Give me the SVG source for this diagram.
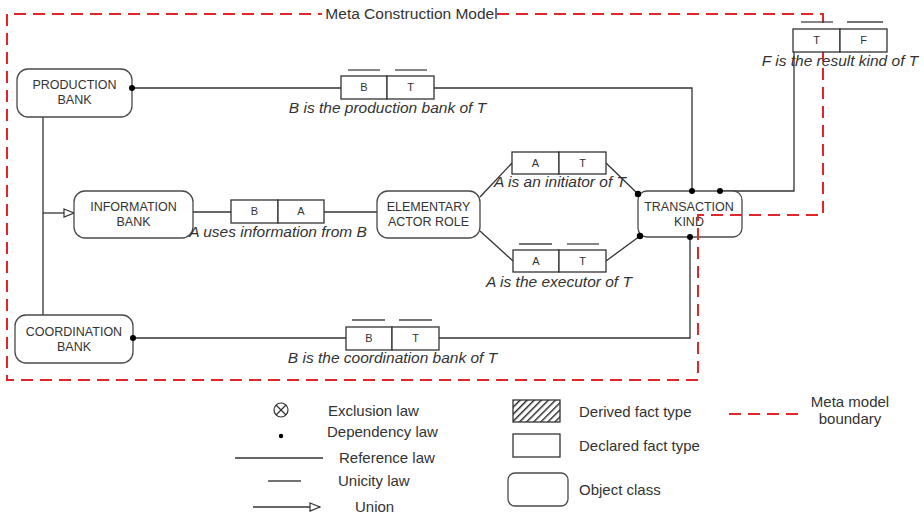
<svg xmlns="http://www.w3.org/2000/svg" width="924" height="514" viewBox="0 0 924 514">
  <style>
    .node { fill: #fff; stroke: #4a4a4a; stroke-width: 1.3; }
    .ntext { font-family: "Liberation Sans", Arial, sans-serif; font-size: 12.5px; fill: #333; text-anchor: middle; }
    .cell { fill: #fff; stroke: #333; stroke-width: 1.3; }
    .ctext { font-family: "Liberation Sans", Arial, sans-serif; font-size: 11px; fill: #333; text-anchor: middle; }
    .uni { stroke: #444; stroke-width: 1.3; fill: none; }
    .conn { stroke: #333; stroke-width: 1.3; fill: none; }
    .label { font-family: "Liberation Sans", Arial, sans-serif; font-size: 15.5px; font-style: italic; fill: #333; text-anchor: middle; }
    .legend { font-family: "Liberation Sans", Arial, sans-serif; font-size: 15px; fill: #333; }
    .boundary { stroke: #e0262b; stroke-width: 2; stroke-dasharray: 12 7; fill: none; }
    .dot { fill: #000; }
  </style>
  <defs>
    <marker id="union" viewBox="0 0 12 10" refX="11" refY="5" markerWidth="12" markerHeight="10" markerUnits="userSpaceOnUse" orient="auto">
      <path d="M1,1 L11,5 L1,9 Z" fill="#fff" stroke="#333" stroke-width="1.2"/>
    </marker>
    <pattern id="hatch" patternUnits="userSpaceOnUse" width="5" height="5" patternTransform="rotate(45)">
      <rect x="0" y="0" width="1.4" height="5" fill="#222"/>
    </pattern>
  </defs>

  <rect width="924" height="514" fill="#fff"/>

  <!-- connectors -->
  <g id="connectors">
    <polyline class="conn" points="132,88 692,88 692,191"/>
    <polyline class="conn" points="43,117 43,315"/>
    <line class="conn" x1="43" y1="213" x2="74" y2="213" marker-end="url(#union)"/>
    <polyline class="conn" points="133,338 690,338 690,237"/>
    <polyline class="conn" points="720,191 794,191 794,52"/>
    <line class="conn" x1="193" y1="212" x2="231" y2="212"/>
    <line class="conn" x1="324" y1="212" x2="377" y2="212"/>
    <line class="conn" x1="480" y1="197" x2="512" y2="163"/>
    <line class="conn" x1="606" y1="163" x2="638" y2="194"/>
    <line class="conn" x1="480" y1="231" x2="513" y2="261"/>
    <line class="conn" x1="606" y1="261" x2="640" y2="236"/>
  </g>

  <!-- object classes -->
  <g id="production-bank">
    <rect class="node" x="17" y="69" width="115" height="48" rx="11"/>
    <text class="ntext" x="74.5" y="89">PRODUCTION</text>
    <text class="ntext" x="74.5" y="104">BANK</text>
  </g>
  <g id="information-bank">
    <rect class="node" x="74" y="191" width="119" height="47" rx="11"/>
    <text class="ntext" x="133.5" y="211">INFORMATION</text>
    <text class="ntext" x="133.5" y="226">BANK</text>
  </g>
  <g id="coordination-bank">
    <rect class="node" x="15" y="315" width="118" height="48" rx="11"/>
    <text class="ntext" x="74" y="336">COORDINATION</text>
    <text class="ntext" x="74" y="351">BANK</text>
  </g>
  <g id="elementary-actor-role">
    <rect class="node" x="377" y="191" width="103" height="47" rx="11"/>
    <text class="ntext" x="428.5" y="211">ELEMENTARY</text>
    <text class="ntext" x="428.5" y="226">ACTOR ROLE</text>
  </g>
  <g id="transaction-kind">
    <rect class="node" x="638" y="191" width="104" height="46" rx="9"/>
    <text class="ntext" x="689" y="211">TRANSACTION</text>
    <text class="ntext" x="689" y="226">KIND</text>
  </g>

  <!-- dependency dots -->
  <g id="dependency-dots">
    <circle class="dot" cx="132" cy="88" r="3"/>
    <circle class="dot" cx="133" cy="338" r="3"/>
    <circle class="dot" cx="692" cy="191" r="3"/>
    <circle class="dot" cx="720" cy="191" r="3"/>
    <circle class="dot" cx="638" cy="194" r="3.2"/>
    <circle class="dot" cx="640" cy="236" r="3.2"/>
    <circle class="dot" cx="690" cy="237" r="3"/>
  </g>

  <!-- fact types -->
  <g id="fact-production">
    <rect class="cell" x="341" y="76" width="46" height="23"/>
    <rect class="cell" x="387" y="76" width="47" height="23"/>
    <line class="uni" x1="348" y1="70" x2="380" y2="70"/>
    <line class="uni" x1="395" y1="70" x2="427" y2="70"/>
    <text class="ctext" x="364" y="91">B</text>
    <text class="ctext" x="410.5" y="91">T</text>
    <text class="label" x="387.5" y="113">B is the production bank of T</text>
  </g>
  <g id="fact-information">
    <rect class="cell" x="231" y="200" width="47" height="23"/>
    <rect class="cell" x="278" y="200" width="46" height="23"/>
    <text class="ctext" x="254.5" y="215">B</text>
    <text class="ctext" x="301" y="215">A</text>
    <text class="label" x="278" y="237">A uses information from B</text>
  </g>
  <g id="fact-initiator">
    <rect class="cell" x="512" y="152" width="47" height="22"/>
    <rect class="cell" x="559" y="152" width="47" height="22"/>
    <text class="ctext" x="535.5" y="167">A</text>
    <text class="ctext" x="582.5" y="167">T</text>
    <text class="label" x="560" y="187">A is an initiator of T</text>
  </g>
  <g id="fact-executor">
    <rect class="cell" x="513" y="250" width="46" height="22"/>
    <rect class="cell" x="559" y="250" width="47" height="22"/>
    <line class="uni" x1="519" y1="244" x2="552" y2="244"/>
    <line class="uni" x1="567" y1="244" x2="599" y2="244"/>
    <text class="ctext" x="536" y="265">A</text>
    <text class="ctext" x="582.5" y="265">T</text>
    <text class="label" x="559" y="287">A is the executor of T</text>
  </g>
  <g id="fact-coordination">
    <rect class="cell" x="346" y="327" width="46" height="23"/>
    <rect class="cell" x="392" y="327" width="47" height="23"/>
    <line class="uni" x1="352" y1="320" x2="385" y2="320"/>
    <line class="uni" x1="399" y1="320" x2="432" y2="320"/>
    <text class="ctext" x="369" y="342">B</text>
    <text class="ctext" x="415.5" y="342">T</text>
    <text class="label" x="392.5" y="363">B is the coordination bank of T</text>
  </g>

  <!-- meta model boundary -->
  <g id="boundary">
    <path class="boundary" d="M497,14 H823 V215 H698 V380 H7 V14 H322"/>
    <text class="legend" x="411.5" y="19" text-anchor="middle" style="font-size:15.5px">Meta Construction Model</text>
  </g>

  <g id="fact-result-kind">
    <rect class="cell" x="793" y="29" width="47" height="23"/>
    <rect class="cell" x="840" y="29" width="47" height="23"/>
    <line class="uni" x1="801" y1="22" x2="833" y2="22"/>
    <line class="uni" x1="847" y1="22" x2="883" y2="22"/>
    <text class="ctext" x="816.5" y="44">T</text>
    <text class="ctext" x="863.5" y="44">F</text>
    <text class="label" x="840" y="66">F is the result kind of T</text>
  </g>

  <!-- legend -->
  <g id="legend">
    <circle cx="281" cy="410" r="7" fill="none" stroke="#333" stroke-width="1.2"/>
    <line x1="276" y1="405" x2="286" y2="415" stroke="#333" stroke-width="1.2"/>
    <line x1="286" y1="405" x2="276" y2="415" stroke="#333" stroke-width="1.2"/>
    <text class="legend" x="328" y="416">Exclusion law</text>
    <circle class="dot" cx="281" cy="436" r="2.2"/>
    <text class="legend" x="327" y="437">Dependency law</text>
    <line class="conn" x1="235" y1="458" x2="323" y2="458"/>
    <text class="legend" x="339" y="463">Reference law</text>
    <line class="uni" x1="268" y1="481" x2="301" y2="481"/>
    <text class="legend" x="338" y="486">Unicity law</text>
    <line class="conn" x1="253" y1="507" x2="320" y2="507" marker-end="url(#union)"/>
    <text class="legend" x="355" y="512">Union</text>

    <rect x="513" y="400" width="47" height="22" fill="url(#hatch)" stroke="#333" stroke-width="1.3"/>
    <text class="legend" x="579" y="417">Derived fact type</text>
    <rect class="cell" x="513" y="434" width="47" height="23"/>
    <text class="legend" x="579" y="451">Declared fact type</text>
    <rect class="node" x="508" y="473" width="60" height="33" rx="7"/>
    <text class="legend" x="579" y="495">Object class</text>

    <line class="boundary" x1="729" y1="414" x2="798" y2="414"/>
    <text class="legend" x="850" y="407" text-anchor="middle">Meta model</text>
    <text class="legend" x="850" y="424" text-anchor="middle">boundary</text>
  </g>
</svg>
